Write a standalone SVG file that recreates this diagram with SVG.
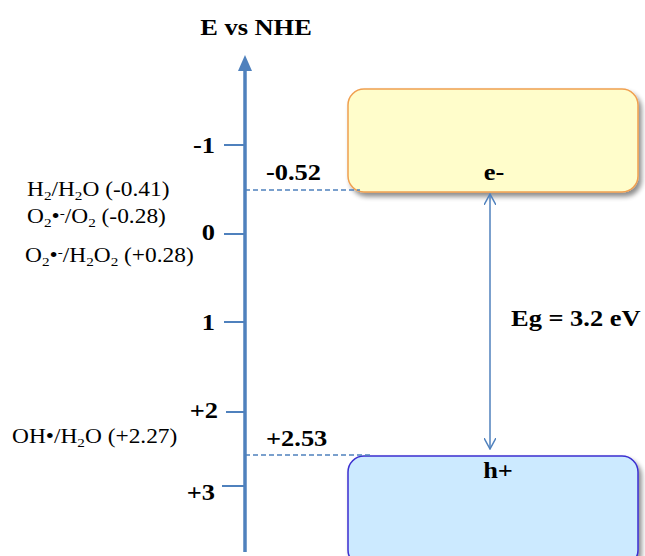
<svg xmlns="http://www.w3.org/2000/svg" width="645" height="556" viewBox="0 0 645 556">
<style>
text{font-family:"Liberation Serif","Times New Roman",serif;fill:#000}
.b{font-weight:bold;font-size:23px}
.r{font-size:20px}
.s{font-size:13px}
.tick{stroke:#4F81BD;stroke-width:2}
.dash{stroke:#4F81BD;stroke-width:1.5;stroke-dasharray:5,3;fill:none}
</style>
<defs>
<filter id="sh" x="-10%" y="-10%" width="125%" height="130%">
<feGaussianBlur in="SourceAlpha" stdDeviation="2.5"/>
<feOffset dx="3" dy="4"/>
<feComponentTransfer><feFuncA type="linear" slope="0.45"/></feComponentTransfer>
<feMerge><feMergeNode/><feMergeNode in="SourceGraphic"/></feMerge>
</filter>
<marker id="open" viewBox="0 0 12 12" refX="11" refY="6" markerWidth="12" markerHeight="12" markerUnits="userSpaceOnUse" orient="auto-start-reverse">
<path d="M0,0 L11,6 L0,12" fill="none" stroke="#4F81BD" stroke-width="1.5"/>
</marker>
</defs>
<text class="b" transform="translate(256,35) scale(1.15,1)" text-anchor="middle">E vs NHE</text>
<g id="axis">
<line x1="245" y1="70" x2="245" y2="552" stroke="#4F81BD" stroke-width="3.5"/>
<polygon points="245,55 238,71 252,71" fill="#4F81BD"/>
<line class="tick" x1="224" y1="145" x2="245" y2="145"/>
<line class="tick" x1="224" y1="234" x2="245" y2="234"/>
<line class="tick" x1="224" y1="322" x2="245" y2="322"/>
<line class="tick" x1="226" y1="412" x2="245" y2="412"/>
<line class="tick" x1="222" y1="486" x2="245" y2="486"/>
<text class="b" transform="translate(215,153) scale(1.15,1)" text-anchor="end">-1</text>
<text class="b" transform="translate(215,240) scale(1.15,1)" text-anchor="end">0</text>
<text class="b" transform="translate(215,330) scale(1.15,1)" text-anchor="end">1</text>
<text class="b" transform="translate(218,418) scale(1.15,1)" text-anchor="end">+2</text>
<text class="b" transform="translate(215,500) scale(1.15,1)" text-anchor="end">+3</text>
</g>
<g id="couples">
<text class="r" transform="translate(27,196) scale(1.17,1)">H<tspan class="s" dy="4">2</tspan><tspan dy="-4">/H</tspan><tspan class="s" dy="4">2</tspan><tspan dy="-4">O (-0.41)</tspan></text>
<text class="r" transform="translate(27,223) scale(1.17,1)">O<tspan class="s" dy="4">2</tspan><tspan dy="-4">•</tspan><tspan class="s" dy="-6">-</tspan><tspan dy="6">/O</tspan><tspan class="s" dy="4">2</tspan><tspan dy="-4"> (-0.28)</tspan></text>
<text class="r" transform="translate(25,262) scale(1.17,1)">O<tspan class="s" dy="4">2</tspan><tspan dy="-4">•</tspan><tspan class="s" dy="-6">-</tspan><tspan dy="6">/H</tspan><tspan class="s" dy="4">2</tspan><tspan dy="-4">O</tspan><tspan class="s" dy="4">2</tspan><tspan dy="-4"> (+0.28)</tspan></text>
<text class="r" transform="translate(12,443) scale(1.17,1)">OH•/H<tspan class="s" dy="4">2</tspan><tspan dy="-4">O (+2.27)</tspan></text>
</g>
<g id="cb">
<rect x="348" y="89" width="290" height="103" rx="16" fill="#FFFDCB" stroke="#F0A050" stroke-width="1.5" filter="url(#sh)"/>
<text class="b" transform="translate(494,180) scale(1.15,1)" text-anchor="middle">e-</text>
</g>
<g id="vb">
<rect x="348" y="456" width="290" height="110" rx="16" fill="#CCEAFF" stroke="#3A2FD0" stroke-width="1.5" filter="url(#sh)"/>
<text class="b" transform="translate(498,478) scale(1.15,1)" text-anchor="middle">h+</text>
</g>
<g id="connectors">
<line class="dash" x1="245" y1="190" x2="360" y2="190"/>
<line class="dash" x1="245" y1="455" x2="370" y2="455"/>
<line x1="490" y1="194" x2="490" y2="449" stroke="#4F81BD" stroke-width="1.5" marker-start="url(#open)" marker-end="url(#open)"/>
</g>
<text class="b" transform="translate(266,180) scale(1.15,1)">-0.52</text>
<text class="b" transform="translate(266,446) scale(1.15,1)">+2.53</text>
<text class="b" transform="translate(511,326) scale(1.15,1)">Eg = 3.2 eV</text>
</svg>
